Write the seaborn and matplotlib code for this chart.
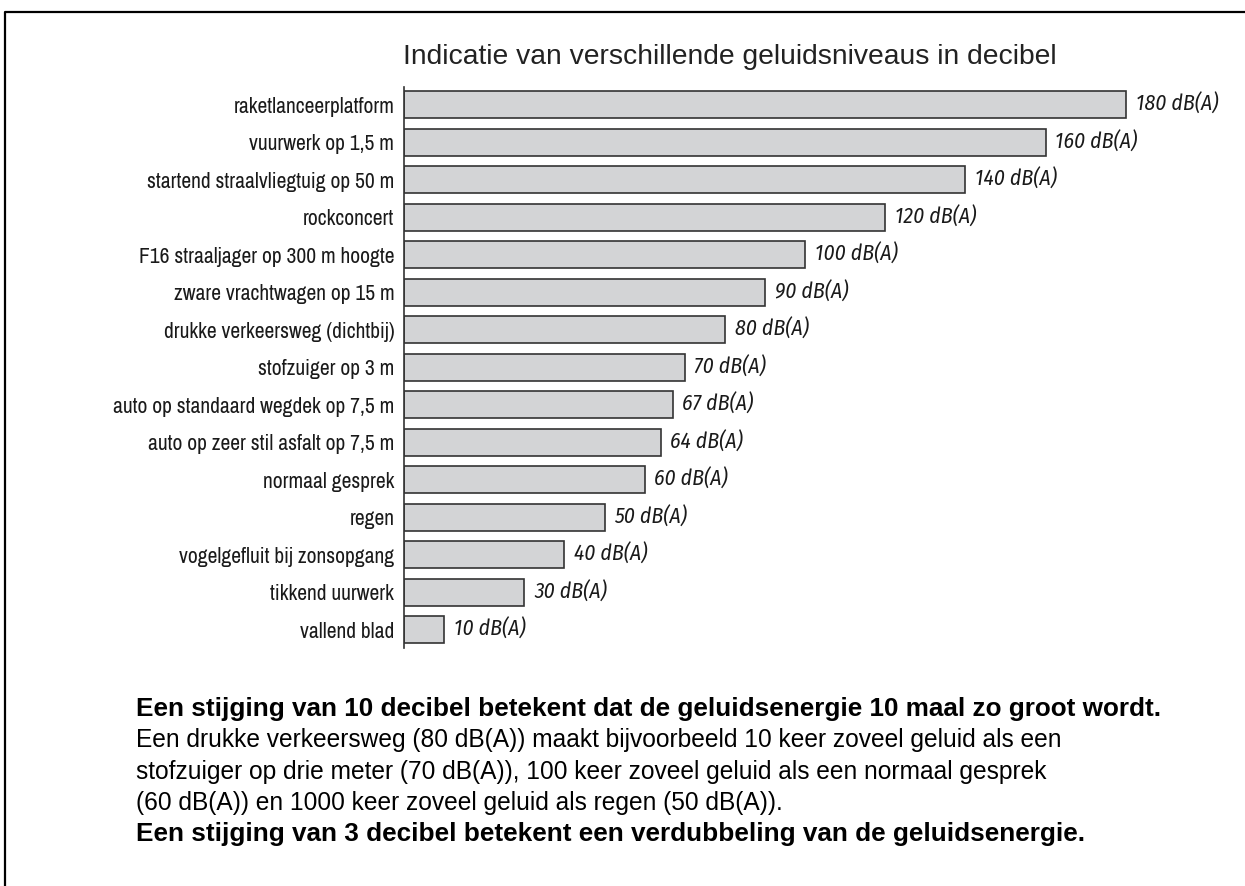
import matplotlib
matplotlib.use("Agg")
import matplotlib.pyplot as plt
from matplotlib.lines import Line2D
import seaborn as sns
import pandas as pd

# Geluidsniveaus (dB(A))
bronnen = [
    "raketlanceerplatform",
    "vuurwerk op 1,5 m",
    "startend straalvliegtuig op 50 m",
    "rockconcert",
    "F16 straaljager op 300 m hoogte",
    "zware vrachtwagen op 15 m",
    "drukke verkeersweg (dichtbij)",
    "stofzuiger op 3 m",
    "auto op standaard wegdek op 7,5 m",
    "auto op zeer stil asfalt op 7,5 m",
    "normaal gesprek",
    "regen",
    "vogelgefluit bij zonsopgang",
    "tikkend uurwerk",
    "vallend blad",
]
niveaus = [180, 160, 140, 120, 100, 90, 80, 70, 67, 64, 60, 50, 40, 30, 10]

titel = "Indicatie van verschillende geluidsniveaus in decibel"
toelichting = [
    ("Een stijging van 10 decibel betekent dat de geluidsenergie 10 maal zo groot wordt.", "bold"),
    ("Een drukke verkeersweg (80 dB(A)) maakt bijvoorbeeld 10 keer zoveel geluid als een", "normal"),
    ("stofzuiger op drie meter (70 dB(A)), 100 keer zoveel geluid als een normaal gesprek", "normal"),
    ("(60 dB(A)) en 1000 keer zoveel geluid als regen (50 dB(A)).", "normal"),
    ("Een stijging van 3 decibel betekent een verdubbeling van de geluidsenergie.", "bold"),
]

df = pd.DataFrame({"bron": bronnen, "niveau": niveaus})

sns.set_theme(style="white")
plt.rcParams["font.family"] = ["Liberation Sans", "DejaVu Sans"]
smal = ["Archivo Narrow", "PT Sans Narrow", "Liberation Sans", "DejaVu Sans"]
smal_cursief = ["Fira Sans Condensed", "Roboto Condensed", "Liberation Sans", "DejaVu Sans"]

W, H = 1245, 886
fig = plt.figure(figsize=(W / 100, H / 100), dpi=100)
ax = fig.add_axes([404 / W, 1 - 648 / H, 802 / W, 561 / H])

sns.barplot(data=df, x="niveau", y="bron", orient="h", color="#d3d4d6",
            saturation=1, edgecolor="#333333", linewidth=1.2, width=0.72, ax=ax)

ax.set_xlim(0, 200)
ax.set_ylim(14.49, -0.47)
ax.set_xlabel("")
ax.set_ylabel("")
ax.set_xticks([])
for s in ["top", "right", "bottom"]:
    ax.spines[s].set_visible(False)
ax.spines["left"].set_color("#333333")
ax.spines["left"].set_linewidth(1.2)
ax.tick_params(axis="y", length=0, pad=7)
for lbl in ax.get_yticklabels():
    lbl.set_family(smal)
    lbl.set_fontsize(15.5)
    lbl.set_color("#1a1a1a")

ax.bar_label(ax.containers[0], labels=[f"{v} dB(A)" for v in niveaus], padding=7,
             fontsize=15.5, style="italic", family=smal_cursief, color="#1a1a1a")

fig.text(403 / W, 1 - 64 / H, titel, fontsize=20.3, color="#222222", va="baseline", ha="left")

y0 = 716
for i, (regel, gewicht) in enumerate(toelichting):
    fig.text(136 / W, 1 - (y0 + i * 31.25) / H, regel,
             fontsize=18.8 if gewicht == "bold" else 17.65, fontweight=gewicht,
             color="black", va="baseline", ha="left")

# kader (boven en links)
fig.add_artist(Line2D([5 / W, 5 / W, 1], [0, 1 - 12 / H, 1 - 12 / H],
                      transform=fig.transFigure, color="black", linewidth=1.6))

fig.savefig("out.png", dpi=100)
